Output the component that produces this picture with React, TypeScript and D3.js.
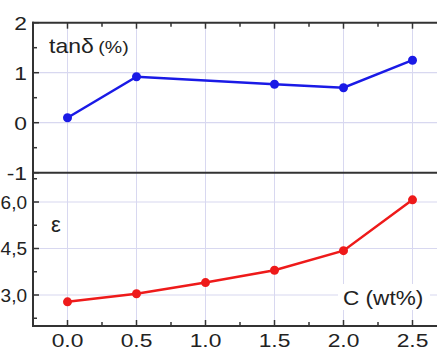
import React from 'react';
import * as d3 from 'd3';

const carbon = [0.0, 0.5, 1.0, 1.5, 2.0, 2.5];
const tanCarbon = [0.0, 0.5, 1.5, 2.0, 2.5];
const tanDelta = [0.1, 0.92, 0.77, 0.7, 1.25];
const epsilon = [2.78, 3.04, 3.4, 3.8, 4.43, 6.07];
const xTicks = [0.0, 0.5, 1.0, 1.5, 2.0, 2.5];
const tanTicks = [2, 1, 0, -1];
const epsTicks = [6.0, 4.5, 3.0];

const W = 437;
const H = 350;
const left = 33;
const axisColor = '#333';
const gridColor = '#d8d8f0';
const textColor = '#222';
const font = '"Liberation Sans", Arial, sans-serif';
const stretch = 1.2;

export default function App() {
  const x = d3.scaleLinear().domain([-0.25, 2.75]).range([left, left + 3 * 138]);
  const yTop = d3.scaleLinear().domain([-1, 2]).range([172.7, 22.7]);
  const yBot = d3.scaleLinear().domain([2, 7]).range([326, 171]);

  const lineTop = d3.line<number>().x((d, i) => x(tanCarbon[i])).y(d => yTop(d));
  const lineBot = d3.line<number>().x((d, i) => x(carbon[i])).y(d => yBot(d));

  const minorX = d3.range(-0.25, 2.76, 0.25);
  const minorTop = d3.range(-1, 2.01, 0.5);
  const minorBot = d3.range(2.25, 7, 0.75);
  const isHalf = (t: number) => Math.abs(t * 2 - Math.round(t * 2)) < 1e-6;

  return (
    <svg width={W} height={H} style={{ position: 'absolute', left: 0, top: 0 }} fontFamily={font}>
      <rect width={W} height={H} fill="#fff" />
      {/* grid */}
      {xTicks.map(t => (
        <line key={'gx' + t} x1={x(t)} x2={x(t)} y1={22.7} y2={326} stroke={gridColor} strokeWidth={1} />
      ))}
      {[1, 0].map(t => (
        <line key={'gt' + t} x1={left} x2={W} y1={yTop(t)} y2={yTop(t)} stroke={gridColor} strokeWidth={1.2} />
      ))}
      {epsTicks.map(t => (
        <line key={'gb' + t} x1={left} x2={W} y1={yBot(t)} y2={yBot(t)} stroke={gridColor} strokeWidth={1.2} />
      ))}

      {/* ticks */}
      {minorX.map(t => (
        <g key={'tx' + t}>
          <line x1={x(t)} x2={x(t)} y1={22.7} y2={22.7 + (isHalf(t) ? 6 : 4)} stroke={axisColor} strokeWidth={1.5} />
          <line x1={x(t)} x2={x(t)} y1={326} y2={326 - (isHalf(t) ? 6 : 4)} stroke={axisColor} strokeWidth={1.5} />
        </g>
      ))}
      {minorTop.map(t => (
        <line key={'ty' + t} x1={left} x2={left + (Number.isInteger(t) ? 6 : 4)} y1={yTop(t)} y2={yTop(t)} stroke={axisColor} strokeWidth={1.5} />
      ))}
      {minorBot.map(t => (
        <line key={'tb' + t} x1={left} x2={left + (epsTicks.some(e => Math.abs(e - t) < 1e-6) ? 6 : 4)} y1={yBot(t)} y2={yBot(t)} stroke={axisColor} strokeWidth={1.5} />
      ))}

      {/* frame */}
      <line x1={left} x2={left} y1={21.7} y2={327} stroke={axisColor} strokeWidth={2} />
      <line x1={left - 1} x2={W} y1={22.7} y2={22.7} stroke={axisColor} strokeWidth={2} />
      <line x1={left - 1} x2={W} y1={172.7} y2={172.7} stroke={axisColor} strokeWidth={2} />
      <line x1={left - 1} x2={W} y1={326} y2={326} stroke={axisColor} strokeWidth={2} />

      {/* tick labels */}
      {tanTicks.map(t => (
        <text key={'lt' + t} transform={`translate(27,${yTop(t) + 6.8}) scale(${stretch},1)`} fontSize={19} textAnchor="end" fill={textColor}>{String(t)}</text>
      ))}
      {epsTicks.map(t => (
        <text key={'lb' + t} transform={`translate(27,${yBot(t) + 6.8})`} fontSize={19} textAnchor="end" fill={textColor}>{t.toFixed(1).replace('.', ',')}</text>
      ))}
      {xTicks.map(t => (
        <text key={'lx' + t} transform={`translate(${x(t)},347) scale(${stretch},1)`} fontSize={19} textAnchor="middle" fill={textColor}>{t.toFixed(1)}</text>
      ))}

      {/* labels */}
      <text transform="translate(49,53) scale(1.15,1)" fontSize={20} fill={textColor}>tan<tspan>δ</tspan><tspan fontSize={17} dx={4}>(%)</tspan></text>
      <text x={51} y={232} fontSize={22} fill={textColor}>ε</text>
      <rect x={338} y={284} width={92} height={26} fill="#fff" />
      <text transform="translate(343,304.5) scale(1.13,1)" fontSize={20} fill={textColor}>C (wt%)</text>

      {/* series */}
      <path d={lineTop(tanDelta) || ''} fill="none" stroke="#1a1ae6" strokeWidth={2.5} />
      {tanDelta.map((v, i) => (
        <circle key={'pt' + i} cx={x(tanCarbon[i])} cy={yTop(v)} r={4.5} fill="#1a1ae6" />
      ))}
      <path d={lineBot(epsilon) || ''} fill="none" stroke="#ee1a1a" strokeWidth={2.5} />
      {epsilon.map((v, i) => (
        <circle key={'pb' + i} cx={x(carbon[i])} cy={yBot(v)} r={4.5} fill="#ee1a1a" />
      ))}
    </svg>
  );
}
